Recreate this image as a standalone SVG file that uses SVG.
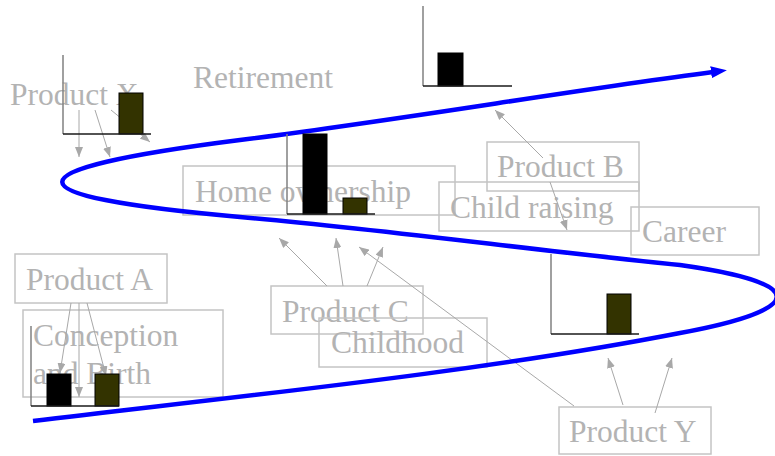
<svg xmlns="http://www.w3.org/2000/svg" width="775" height="456" viewBox="0 0 775 456">
  <style>
    .lbl { font-family: "Liberation Serif", "Times New Roman", serif; font-size: 31.5px; fill: #b3b3b3; }
    .box { fill: none; stroke: #c4c4c4; stroke-width: 1.5; }
    .con { stroke: #a8a8a8; stroke-width: 1; fill: none; marker-end: url(#tip); }
    .yax { stroke: #808080; stroke-width: 1.5; }
    .xax { stroke: #1a1a1a; stroke-width: 1.5; }
    .barK { fill: #000000; stroke: #000000; stroke-width: 1; }
    .barO { fill: #333300; stroke: #000000; stroke-width: 1; }
    .life { fill: none; stroke: #0000ff; stroke-width: 4.5; stroke-linecap: butt; marker-end: url(#bigtip); }
  </style>
  <defs>
    <marker id="tip" markerUnits="userSpaceOnUse" markerWidth="10" markerHeight="8" refX="10" refY="4" orient="auto">
      <path d="M0,0 L10,4 L0,8 z" fill="#a8a8a8"/>
    </marker>
    <marker id="bigtip" markerUnits="userSpaceOnUse" markerWidth="16" markerHeight="12" refX="2" refY="6" orient="auto">
      <path d="M0,0 L16,6 L0,12 z" fill="#0000ff"/>
    </marker>
  </defs>

  <rect width="775" height="456" fill="#ffffff"/>

  <!-- plain labels -->
  <g id="product-x">
    <text class="lbl" x="10" y="105">Product X</text>
  </g>
  <g id="retirement">
    <text class="lbl" x="193" y="88">Retirement</text>
  </g>

  <!-- boxed labels -->
  <g id="home-ownership">
    <rect class="box" x="183" y="166" width="272" height="49"/>
    <text class="lbl" x="195" y="202">Home ownership</text>
  </g>
  <g id="child-raising">
    <rect class="box" x="439" y="182" width="200" height="49"/>
    <text class="lbl" x="450" y="218">Child raising</text>
  </g>
  <g id="product-b">
    <rect class="box" x="487" y="142" width="152" height="49"/>
    <text class="lbl" x="497" y="177">Product B</text>
  </g>
  <g id="career">
    <rect class="box" x="631" y="207" width="128" height="48"/>
    <text class="lbl" x="642" y="242">Career</text>
  </g>
  <g id="product-a">
    <rect class="box" x="15" y="254" width="152" height="49"/>
    <text class="lbl" x="26" y="290">Product A</text>
  </g>
  <g id="conception-birth">
    <rect class="box" x="23" y="310" width="200" height="87"/>
    <text class="lbl" x="33" y="346">Conception</text>
    <text class="lbl" x="33" y="384">and Birth</text>
  </g>
  <g id="product-c">
    <rect class="box" x="271" y="286" width="152" height="48"/>
    <text class="lbl" x="282" y="322">Product C</text>
  </g>
  <g id="childhood">
    <rect class="box" x="319" y="318" width="168" height="49"/>
    <text class="lbl" x="331" y="353">Childhood</text>
  </g>
  <g id="product-y">
    <rect class="box" x="559" y="407" width="152" height="47"/>
    <text class="lbl" x="569" y="442">Product Y</text>
  </g>

  <!-- product pointers -->
  <g id="connectors">
    <line class="con" x1="79" y1="110" x2="79" y2="157"/>
    <line class="con" x1="95" y1="110" x2="110" y2="157"/>
    <line class="con" x1="111" y1="110" x2="150" y2="142"/>
    <line class="con" x1="543" y1="158" x2="495" y2="110"/>
    <line class="con" x1="550" y1="182" x2="567" y2="230"/>
    <line class="con" x1="71" y1="303" x2="60" y2="373"/>
    <line class="con" x1="79" y1="303" x2="79" y2="397"/>
    <line class="con" x1="87" y1="303" x2="106" y2="376"/>
    <line class="con" x1="327" y1="286" x2="279" y2="238"/>
    <line class="con" x1="343" y1="286" x2="336" y2="238"/>
    <line class="con" x1="367" y1="286" x2="383" y2="247"/>
    <line class="con" x1="574" y1="406" x2="359" y2="247"/>
    <line class="con" x1="623" y1="405" x2="608" y2="358"/>
    <line class="con" x1="655" y1="413" x2="672" y2="358"/>
  </g>

  <!-- life path -->
  <g id="life-curve">
    <path class="life" d="M33,421 C250,395 480,372 680,333 C809,309 809,283 680,265 C530,250 390,230 240,217 C3,196 3,170 240,140 C400,120 560,92 713,72"/>
  </g>

  <!-- bar charts -->
  <g id="chart-1">
    <rect class="barO" x="119" y="93" width="24" height="41"/>
    <line class="yax" x1="63" y1="55" x2="63" y2="134"/>
    <line class="xax" x1="63" y1="134" x2="151" y2="134"/>
  </g>
  <g id="chart-2">
    <rect class="barK" x="303" y="134" width="24" height="80"/>
    <rect class="barO" x="343" y="198" width="24" height="16"/>
    <line class="yax" x1="287" y1="134" x2="287" y2="214"/>
    <line class="xax" x1="287" y1="214" x2="375" y2="214"/>
  </g>
  <g id="chart-3">
    <rect class="barK" x="438" y="53" width="25" height="33"/>
    <line class="yax" x1="423" y1="6" x2="423" y2="86"/>
    <line class="xax" x1="423" y1="86" x2="512" y2="86"/>
  </g>
  <g id="chart-4">
    <rect class="barO" x="607" y="294" width="24" height="40"/>
    <line class="yax" x1="551" y1="254" x2="551" y2="334"/>
    <line class="xax" x1="551" y1="334" x2="639" y2="334"/>
  </g>
  <g id="chart-5">
    <rect class="barK" x="47" y="374" width="24" height="32"/>
    <rect class="barO" x="95" y="374" width="24" height="32"/>
    <line class="yax" x1="31" y1="326" x2="31" y2="406"/>
    <line class="xax" x1="31" y1="406" x2="119" y2="406"/>
  </g>
</svg>
